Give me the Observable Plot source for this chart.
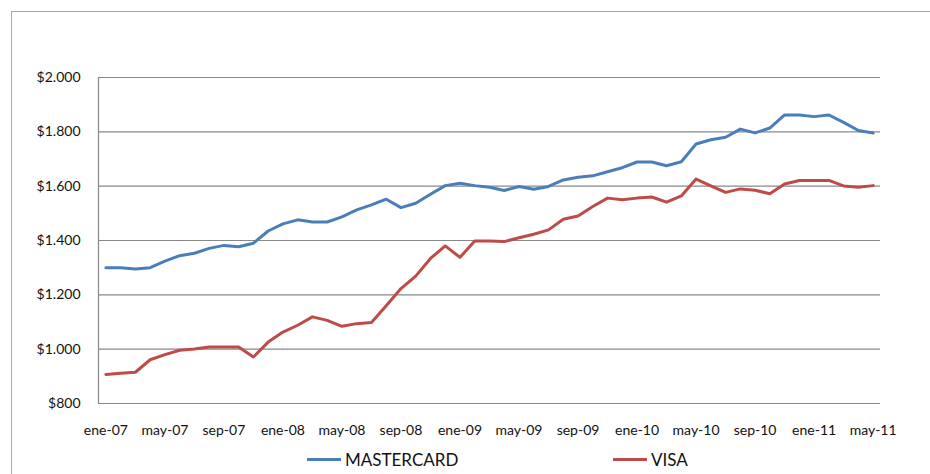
<!DOCTYPE html>
<html>
<head>
<meta charset="utf-8">
<script src="https://cdn.jsdelivr.net/npm/d3@7"></script>
<script src="https://cdn.jsdelivr.net/npm/@observablehq/plot@0.6"></script>
<style>
  html, body { margin: 0; padding: 0; background: #fff; overflow: hidden; }
  body { width: 930px; height: 474px; position: relative; font-family: Lato, "Open Sans", sans-serif; }
  #border { position: absolute; left: 11px; top: 11px; width: 1000px; height: 1000px; border: 1px solid #a6a6a6; box-sizing: border-box; }
  #chart { position: absolute; left: 0; top: 0; }
  #legend { position: absolute; left: 0; top: 446px; width: 930px; height: 28px; font-size: 17px; color: #111; }
  .item { position: absolute; top: 3px; display: flex; align-items: center; }
  .swatch { display: inline-block; width: 34px; height: 3px; margin-right: 4px; }
</style>
</head>
<body>
<div id="border"></div>
<div id="chart"></div>
<div id="legend"></div>
<script>
const months = [
  "ene-07","feb-07","mar-07","abr-07","may-07","jun-07","jul-07","ago-07","sep-07","oct-07","nov-07","dic-07",
  "ene-08","feb-08","mar-08","abr-08","may-08","jun-08","jul-08","ago-08","sep-08","oct-08","nov-08","dic-08",
  "ene-09","feb-09","mar-09","abr-09","may-09","jun-09","jul-09","ago-09","sep-09","oct-09","nov-09","dic-09",
  "ene-10","feb-10","mar-10","abr-10","may-10","jun-10","jul-10","ago-10","sep-10","oct-10","nov-10","dic-10",
  "ene-11","feb-11","mar-11","abr-11","may-11"
];
const mastercard = [1300,1300,1295,1300,1324,1344,1353,1371,1382,1377,1390,1435,1461,1476,1468,1468,1487,1513,1531,1552,
  1521,1537,1570,1602,1611,1602,1596,1584,1599,1589,1599,1623,1633,1638,1653,1668,1689,1689,1675,1690,
  1755,1771,1780,1810,1796,1814,1862,1862,1856,1862,1835,1805,1796];
const visa = [907,911,915,961,980,996,1001,1008,1008,1008,971,1026,1063,1088,1119,1106,1084,1094,1098,1160,
  1223,1269,1334,1380,1338,1398,1398,1396,1410,1423,1439,1478,1490,1525,1556,1550,1556,1560,1541,1564,
  1626,1601,1577,1590,1585,1572,1608,1621,1621,1621,1601,1596,1602];
const seriesNames = ["MASTERCARD", "VISA"];
const seriesColors = ["#4a7ebb", "#be4b48"];
const yTicks = [800, 1000, 1200, 1400, 1600, 1800, 2000];
const xTickLabels = ["ene-07","may-07","sep-07","ene-08","may-08","sep-08","ene-09","may-09","sep-09","ene-10","may-10","sep-10","ene-11","may-11"];

const data = [];
months.forEach((m, i) => {
  data.push({i, month: m, value: mastercard[i], series: seriesNames[0]});
  data.push({i, month: m, value: visa[i], series: seriesNames[1]});
});
const xDomain = [-0.5, months.length - 0.5];
const xTicks = xTickLabels.map(l => months.indexOf(l));

const locale = d3.formatLocale({decimal: ",", thousands: ".", grouping: [3], currency: ["$", ""]});
const fmt = locale.format("$,");

const chart = Plot.plot({
  width: 930,
  height: 446,
  marginLeft: 98,
  marginRight: 50,
  marginTop: 77,
  marginBottom: 43,
  style: {fontFamily: "Lato, 'Open Sans', sans-serif", fontSize: "14px", color: "#111", background: "transparent"},
  x: {domain: xDomain},
  y: {domain: [800, 2000]},
  color: {domain: seriesNames, range: seriesColors},
  marks: [
    Plot.ruleY(yTicks, {stroke: "#888", strokeWidth: 1.2, strokeOpacity: 1}),
    Plot.ruleX([xDomain[0]], {stroke: "#888", strokeWidth: 1.2}),
    Plot.axisY({ticks: yTicks, tickSize: 0, tickPadding: 18, tickFormat: fmt, label: null, fontSize: 14}),
    Plot.axisX({ticks: xTicks, tickSize: 0, tickPadding: 22, tickFormat: i => months[i], label: null, fontSize: 14}),
    Plot.line(data, {x: "i", y: "value", z: "series", stroke: "series", strokeWidth: 3, strokeLinejoin: "round", strokeLinecap: "round"})
  ]
});
document.getElementById("chart").appendChild(chart);

const legend = document.getElementById("legend");
const positions = [307, 613];
seriesNames.forEach((name, k) => {
  const item = document.createElement("div");
  item.className = "item";
  item.style.left = positions[k] + "px";
  const sw = document.createElement("span");
  sw.className = "swatch";
  sw.style.background = seriesColors[k];
  const t = document.createElement("span");
  t.textContent = name;
  item.appendChild(sw);
  item.appendChild(t);
  legend.appendChild(item);
});
</script>
</body>
</html>
